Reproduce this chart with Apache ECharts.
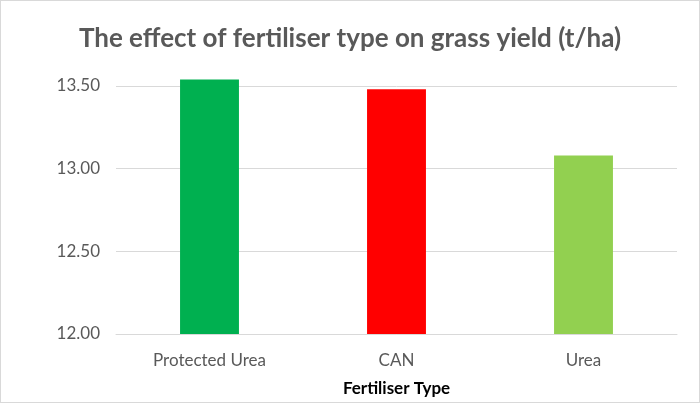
<!DOCTYPE html>
<html lang="en">
  <head>
    <meta charset="utf-8" />
    <title>Fertiliser type vs grass yield</title>
    <script src="https://cdn.jsdelivr.net/npm/echarts@6.0.0/dist/echarts.min.js"></script>
    <style>
      html, body { margin: 0; padding: 0; background: #fff; }
      #main {
        width: 698px;
        height: 401px;
        border: solid 1px #d9d9d9;
      }
    </style>
  </head>
  <body>
    <div id="main"></div>
    <script type="text/javascript">
      var fertilisers = ["Protected Urea", "CAN", "Urea"];
      var yieldValues = [13.54, 13.48, 13.08];
      var barColors = ["#00B050", "#FF0000", "#92D050"];

      var myChart = echarts.init(document.getElementById("main"));

      var option = {
        animation: false,
        title: {
          text: "The effect of fertiliser type on grass yield (t/ha)",
          left: "center",
          top: 20,
          textStyle: {
            fontFamily: "Lato",
            fontSize: 26,
            fontWeight: "bold",
            color: "#595959",
          },
        },
        grid: { left: 115, right: 22, top: 85, bottom: 68 },
        xAxis: {
          type: "category",
          data: fertilisers,
          name: "Fertiliser Type",
          nameLocation: "middle",
          nameGap: 46,
          nameTextStyle: {
            fontFamily: "Lato",
            fontSize: 17,
            fontWeight: "bold",
            color: "#000",
          },
          axisLine: { lineStyle: { color: "#d9d9d9" } },
          axisTick: { show: false },
          axisLabel: {
            fontFamily: "Lato",
            fontSize: 17,
            color: "#595959",
            margin: 18,
          },
        },
        yAxis: {
          type: "value",
          min: 12,
          max: 13.5,
          interval: 0.5,
          startValue: 12,
          axisLine: { show: false },
          axisTick: { show: false },
          splitLine: { lineStyle: { color: "#d9d9d9" } },
          axisLabel: {
            fontFamily: "Lato",
            fontSize: 17,
            color: "#595959",
            margin: 16,
            formatter: function (v) {
              return v.toFixed(2);
            },
          },
        },
        series: [
          {
            type: "bar",
            clip: false,
            barWidth: "31.5%",
            data: yieldValues.map(function (v, i) {
              return { value: v, itemStyle: { color: barColors[i] } };
            }),
          },
        ],
      };

      myChart.setOption(option);
    </script>
  </body>
</html>
